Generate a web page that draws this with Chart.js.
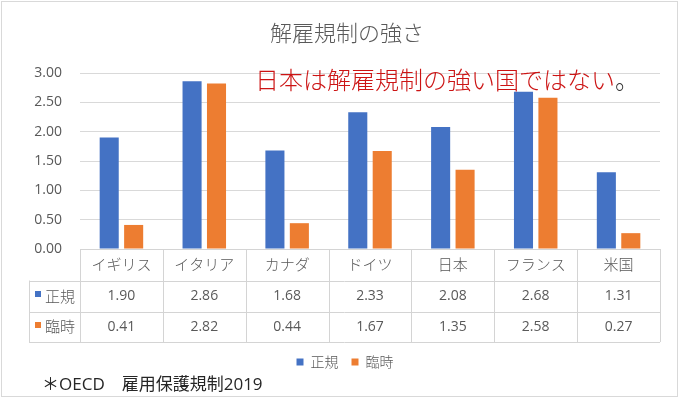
<!DOCTYPE html>
<html>
<head>
<meta charset="utf-8">
<script src="https://cdn.jsdelivr.net/npm/chart.js@4"></script>
<style>
  body { margin: 0; background: #fff; }
  #wrap { width: 680px; height: 398px; position: relative; }
</style>
</head>
<body>
<div id="wrap"><canvas id="chart" width="680" height="398"></canvas></div>
<script>
// data
const countries = ["イギリス", "イタリア", "カナダ", "ドイツ", "日本", "フランス", "米国"];
const seriesNames = ["正規", "臨時"];
const regular = [1.90, 2.86, 1.68, 2.33, 2.08, 2.68, 1.31];
const temporary = [0.41, 2.82, 0.44, 1.67, 1.35, 2.58, 0.27];
const yTicks = [0, 0.5, 1, 1.5, 2, 2.5, 3];

const titleText = "解雇規制の強さ";
const noteText = "日本は解雇規制の強い国ではない";
const sourceText = "＊OECD　雇用保護規制2019";

const FONT = "'Open Sans', 'Noto Sans CJK JP', sans-serif";
const JP = "'Noto Sans CJK JP', sans-serif";
const GRAY = "#595959";
const LINE = "#d4d4d4";
const colors = ["#4472C4", "#ED7D31"];

// title, note, data table, footnote and frame
const extras = {
  id: "extras",
  afterDraw(chart) {
    const ctx = chart.ctx;
    const area = chart.chartArea;
    const xs = chart.scales.x;
    const w = (area.right - area.left) / countries.length;
    const rows = [area.bottom, 280.5, 311.5, 342];
    const keyLeft = 29;
    ctx.save();

    // outer frame
    ctx.strokeStyle = "#d9d9d9";
    ctx.lineWidth = 1;
    ctx.strokeRect(1.5, 1.5, 676, 395);

    // title
    ctx.fillStyle = GRAY;
    ctx.font = "300 22px " + JP;
    ctx.textAlign = "center";
    ctx.textBaseline = "middle";
    ctx.fillText(titleText, 347, 33);

    // red note
    ctx.textAlign = "left";
    ctx.font = "300 24px " + JP;
    ctx.fillStyle = "#cc1414";
    ctx.fillText(noteText, 255, 80);
    const nw = ctx.measureText(noteText).width;
    ctx.fillStyle = "#333";
    ctx.fillText("。", 255 + nw, 80);

    // table lines
    ctx.strokeStyle = LINE;
    ctx.beginPath();
    rows.forEach((y, i) => {
      const yy = Math.round(y) + 0.5;
      ctx.moveTo(i === 0 ? area.left : keyLeft, yy);
      ctx.lineTo(area.right, yy);
    });
    for (let i = 0; i <= countries.length; i++) {
      const x = Math.round(area.left + i * w) + 0.5;
      ctx.moveTo(x, rows[0]);
      ctx.lineTo(x, rows[3]);
    }
    ctx.moveTo(keyLeft + 0.5, rows[1]);
    ctx.lineTo(keyLeft + 0.5, rows[3]);
    ctx.stroke();

    // table text
    ctx.textAlign = "center";
    ctx.fillStyle = GRAY;
    ctx.font = "300 15px " + JP;
    countries.forEach((c, i) => {
      ctx.fillText(c, xs.getPixelForValue(i), (rows[0] + rows[1]) / 2);
    });
    ctx.font = "14px " + FONT;
    [regular, temporary].forEach((vals, r) => {
      const y = (rows[r + 1] + rows[r + 2]) / 2;
      vals.forEach((v, i) => ctx.fillText(v.toFixed(2), xs.getPixelForValue(i), y));
      ctx.fillStyle = colors[r];
      ctx.fillRect(35, Math.round(y) - 5, 6, 6);
      ctx.fillStyle = GRAY;
      ctx.textAlign = "left";
      ctx.font = "300 15px " + JP;
      ctx.fillText(seriesNames[r], 45, y);
      ctx.textAlign = "center";
      ctx.font = "14px " + FONT;
    });

    // footnote
    ctx.textAlign = "left";
    ctx.fillStyle = "#262626";
    ctx.font = "17px " + FONT;
    ctx.fillText(sourceText, 42, 385);
    ctx.restore();
  }
};

new Chart(document.getElementById("chart"), {
  type: "bar",
  data: {
    labels: countries,
    datasets: [
      { label: seriesNames[0], data: regular, backgroundColor: colors[0] },
      { label: seriesNames[1], data: temporary, backgroundColor: colors[1] }
    ]
  },
  options: {
    responsive: false,
    animation: false,
    categoryPercentage: 0.59,
    barPercentage: 0.78,
    layout: { padding: { top: 73, left: 30, right: 20, bottom: 19 } },
    plugins: {
      title: { display: false },
      tooltip: { enabled: false },
      legend: {
        position: "bottom",
        labels: {
          boxWidth: 7,
          boxHeight: 7,
          padding: 13,
          color: GRAY,
          font: { size: 14, family: JP, weight: "300" }
        }
      }
    },
    scales: {
      x: {
        ticks: { display: false },
        grid: { display: false },
        border: { display: false },
        afterFit: s => { s.height = 93; }
      },
      y: {
        min: 0,
        max: 3,
        afterBuildTicks: s => { s.ticks = yTicks.map(v => ({ value: v })); },
        ticks: {
          padding: 18,
          color: GRAY,
          font: { size: 14, family: FONT },
          callback: v => Number(v).toFixed(2)
        },
        grid: { color: "#d9d9d9", drawTicks: false },
        border: { display: false },
        afterFit: s => { s.width = 50; }
      }
    }
  },
  plugins: [extras]
});
</script>
</body>
</html>
